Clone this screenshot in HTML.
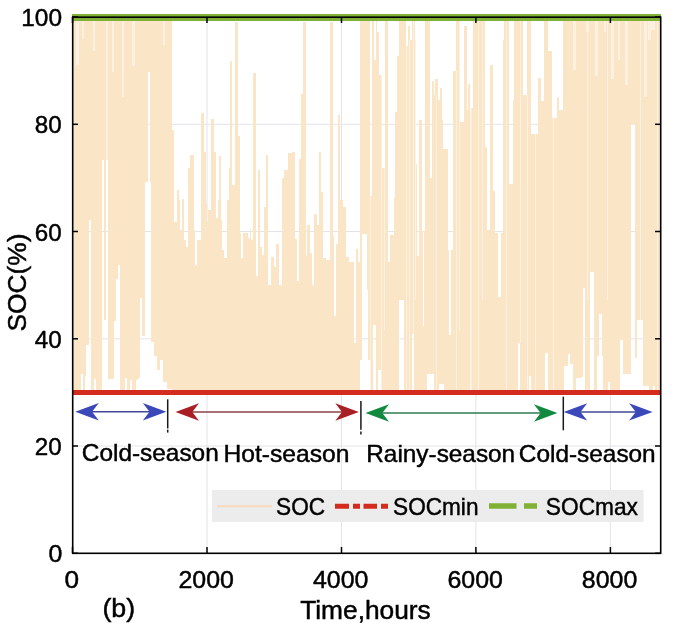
<!DOCTYPE html>
<html><head><meta charset="utf-8"><style>
html,body{margin:0;padding:0;background:#fff;}
svg{display:block;will-change:transform;}
text{font-family:"Liberation Sans",sans-serif;fill:#000;stroke:#000;stroke-width:0.45px;}
</style></head><body>
<svg width="676" height="627" viewBox="0 0 676 627">
<rect width="676" height="627" fill="#fff"/>
<g stroke="#E3E4EA" stroke-width="1"><line x1="207.0" y1="17" x2="207.0" y2="553" /><line x1="341.5" y1="17" x2="341.5" y2="553" /><line x1="475.9" y1="17" x2="475.9" y2="553" /><line x1="610.4" y1="17" x2="610.4" y2="553" /><line x1="72" y1="446.0" x2="661" y2="446.0" /><line x1="72" y1="338.8" x2="661" y2="338.8" /><line x1="72" y1="231.5" x2="661" y2="231.5" /><line x1="72" y1="124.3" x2="661" y2="124.3" /></g>
<g shape-rendering="crispEdges">
<rect x="72" y="17" width="4" height="374" fill="#FAE5C7"/>
<rect x="76" y="17" width="3" height="48" fill="#FCF0E0"/>
<rect x="76" y="65" width="3" height="326" fill="#FAE5C7"/>
<rect x="79" y="17" width="2" height="374" fill="#FAE5C7"/>
<rect x="81" y="17" width="1" height="357" fill="#FAE5C7"/>
<rect x="82" y="17" width="1" height="22" fill="#FCF0E0"/>
<rect x="82" y="39" width="1" height="335" fill="#FAE5C7"/>
<rect x="83" y="17" width="1" height="22" fill="#FCF0E0"/>
<rect x="83" y="39" width="1" height="352" fill="#FAE5C7"/>
<rect x="84" y="17" width="1" height="374" fill="#FAE5C7"/>
<rect x="85" y="17" width="1" height="359" fill="#FAE5C7"/>
<rect x="86" y="17" width="3" height="328" fill="#FAE5C7"/>
<rect x="89" y="17" width="2" height="203" fill="#FAE5C7"/>
<rect x="91" y="17" width="2" height="374" fill="#FAE5C7"/>
<rect x="93" y="17" width="1" height="34" fill="#FCF0E0"/>
<rect x="93" y="51" width="1" height="340" fill="#FAE5C7"/>
<rect x="94" y="17" width="1" height="34" fill="#FCF0E0"/>
<rect x="94" y="51" width="1" height="328" fill="#FAE5C7"/>
<rect x="95" y="17" width="1" height="362" fill="#FAE5C7"/>
<rect x="96" y="17" width="6" height="374" fill="#FAE5C7"/>
<rect x="102" y="17" width="2" height="143" fill="#FAE5C7"/>
<rect x="104" y="17" width="2" height="303" fill="#FAE5C7"/>
<rect x="106" y="17" width="2" height="143" fill="#FCF0E0"/>
<rect x="108" y="17" width="4" height="362" fill="#FAE5C7"/>
<rect x="112" y="17" width="2" height="55" fill="#FCF0E0"/>
<rect x="112" y="72" width="2" height="307" fill="#FAE5C7"/>
<rect x="114" y="17" width="2" height="304" fill="#FAE5C7"/>
<rect x="116" y="17" width="2" height="262" fill="#FAE5C7"/>
<rect x="118" y="17" width="2" height="248" fill="#FAE5C7"/>
<rect x="120" y="17" width="2" height="374" fill="#FAE5C7"/>
<rect x="122" y="17" width="2" height="80" fill="#FCF0E0"/>
<rect x="122" y="97" width="2" height="294" fill="#FAE5C7"/>
<rect x="124" y="17" width="1" height="374" fill="#FAE5C7"/>
<rect x="125" y="17" width="2" height="361" fill="#FAE5C7"/>
<rect x="127" y="17" width="3" height="374" fill="#FAE5C7"/>
<rect x="130" y="17" width="2" height="363" fill="#FAE5C7"/>
<rect x="132" y="17" width="3" height="49" fill="#FCF0E0"/>
<rect x="132" y="66" width="3" height="325" fill="#FAE5C7"/>
<rect x="135" y="17" width="1" height="374" fill="#FAE5C7"/>
<rect x="136" y="17" width="2" height="363" fill="#FAE5C7"/>
<rect x="138" y="17" width="2" height="361" fill="#FAE5C7"/>
<rect x="140" y="17" width="2" height="281" fill="#FAE5C7"/>
<rect x="142" y="17" width="3" height="319" fill="#FAE5C7"/>
<rect x="145" y="17" width="3" height="165" fill="#FAE5C7"/>
<rect x="148" y="17" width="2" height="55" fill="#FAE5C7"/>
<rect x="150" y="17" width="1" height="165" fill="#FAE5C7"/>
<rect x="151" y="17" width="3" height="325" fill="#FAE5C7"/>
<rect x="154" y="17" width="3" height="339" fill="#FAE5C7"/>
<rect x="157" y="17" width="3" height="353" fill="#FAE5C7"/>
<rect x="160" y="17" width="3" height="343" fill="#FAE5C7"/>
<rect x="163" y="17" width="2" height="28" fill="#FCF0E0"/>
<rect x="163" y="45" width="2" height="337" fill="#FAE5C7"/>
<rect x="165" y="17" width="2" height="365" fill="#FAE5C7"/>
<rect x="167" y="17" width="5" height="372" fill="#FAE5C7"/>
<rect x="172" y="130" width="2" height="261" fill="#FAE5C7"/>
<rect x="174" y="222" width="3" height="169" fill="#FAE5C7"/>
<rect x="177" y="190" width="2" height="201" fill="#FAE5C7"/>
<rect x="179" y="200" width="1" height="191" fill="#FAE5C7"/>
<rect x="180" y="230" width="2" height="161" fill="#FAE5C7"/>
<rect x="182" y="199" width="2" height="192" fill="#FAE5C7"/>
<rect x="184" y="240" width="2" height="151" fill="#FAE5C7"/>
<rect x="186" y="247" width="2" height="144" fill="#FAE5C7"/>
<rect x="188" y="168" width="2" height="223" fill="#FAE5C7"/>
<rect x="190" y="155" width="4" height="236" fill="#FAE5C7"/>
<rect x="194" y="230" width="1" height="161" fill="#FAE5C7"/>
<rect x="195" y="265" width="2" height="126" fill="#FAE5C7"/>
<rect x="197" y="240" width="4" height="151" fill="#FAE5C7"/>
<rect x="201" y="113" width="3" height="278" fill="#FAE5C7"/>
<rect x="204" y="152" width="2" height="239" fill="#FAE5C7"/>
<rect x="206" y="204" width="1" height="187" fill="#FAE5C7"/>
<rect x="207" y="222" width="1" height="169" fill="#FAE5C7"/>
<rect x="208" y="210" width="3" height="181" fill="#FAE5C7"/>
<rect x="211" y="119" width="3" height="272" fill="#FAE5C7"/>
<rect x="214" y="152" width="2" height="239" fill="#FAE5C7"/>
<rect x="216" y="218" width="2" height="173" fill="#FAE5C7"/>
<rect x="218" y="200" width="1" height="191" fill="#FAE5C7"/>
<rect x="219" y="156" width="2" height="235" fill="#FAE5C7"/>
<rect x="221" y="220" width="1" height="171" fill="#FAE5C7"/>
<rect x="222" y="250" width="2" height="141" fill="#FAE5C7"/>
<rect x="224" y="258" width="3" height="133" fill="#FAE5C7"/>
<rect x="227" y="200" width="2" height="191" fill="#FAE5C7"/>
<rect x="229" y="168" width="1" height="223" fill="#FAE5C7"/>
<rect x="230" y="61" width="2" height="330" fill="#FAE5C7"/>
<rect x="232" y="185" width="3" height="206" fill="#FAE5C7"/>
<rect x="235" y="22" width="3" height="369" fill="#FAE5C7"/>
<rect x="238" y="136" width="2" height="255" fill="#FAE5C7"/>
<rect x="240" y="233" width="1" height="158" fill="#FAE5C7"/>
<rect x="241" y="258" width="2" height="133" fill="#FAE5C7"/>
<rect x="243" y="233" width="5" height="158" fill="#FAE5C7"/>
<rect x="248" y="238" width="2" height="153" fill="#FAE5C7"/>
<rect x="250" y="229" width="1" height="162" fill="#FAE5C7"/>
<rect x="251" y="240" width="2" height="151" fill="#FAE5C7"/>
<rect x="253" y="73" width="3" height="318" fill="#FAE5C7"/>
<rect x="256" y="276" width="2" height="115" fill="#FAE5C7"/>
<rect x="258" y="170" width="2" height="221" fill="#FAE5C7"/>
<rect x="260" y="247" width="2" height="144" fill="#FAE5C7"/>
<rect x="262" y="255" width="2" height="136" fill="#FAE5C7"/>
<rect x="264" y="207" width="2" height="184" fill="#FAE5C7"/>
<rect x="266" y="155" width="2" height="236" fill="#FAE5C7"/>
<rect x="268" y="285" width="3" height="106" fill="#FAE5C7"/>
<rect x="271" y="257" width="3" height="134" fill="#FAE5C7"/>
<rect x="274" y="267" width="2" height="124" fill="#FAE5C7"/>
<rect x="276" y="244" width="3" height="147" fill="#FAE5C7"/>
<rect x="279" y="285" width="3" height="106" fill="#FAE5C7"/>
<rect x="282" y="178" width="2" height="213" fill="#FAE5C7"/>
<rect x="284" y="170" width="4" height="221" fill="#FAE5C7"/>
<rect x="288" y="153" width="4" height="238" fill="#FAE5C7"/>
<rect x="292" y="152" width="3" height="239" fill="#FAE5C7"/>
<rect x="295" y="239" width="2" height="152" fill="#FAE5C7"/>
<rect x="297" y="281" width="2" height="110" fill="#FAE5C7"/>
<rect x="299" y="159" width="2" height="232" fill="#FAE5C7"/>
<rect x="301" y="94" width="2" height="297" fill="#FAE5C7"/>
<rect x="303" y="22" width="3" height="369" fill="#FAE5C7"/>
<rect x="306" y="256" width="1" height="135" fill="#FAE5C7"/>
<rect x="307" y="225" width="3" height="166" fill="#FAE5C7"/>
<rect x="310" y="253" width="2" height="138" fill="#FAE5C7"/>
<rect x="312" y="285" width="2" height="106" fill="#FAE5C7"/>
<rect x="314" y="214" width="3" height="177" fill="#FAE5C7"/>
<rect x="317" y="225" width="2" height="166" fill="#FAE5C7"/>
<rect x="319" y="152" width="2" height="239" fill="#FAE5C7"/>
<rect x="321" y="192" width="2" height="199" fill="#FAE5C7"/>
<rect x="323" y="258" width="3" height="133" fill="#FAE5C7"/>
<rect x="326" y="260" width="4" height="131" fill="#FAE5C7"/>
<rect x="330" y="22" width="3" height="369" fill="#FAE5C7"/>
<rect x="333" y="236" width="1" height="155" fill="#FAE5C7"/>
<rect x="334" y="316" width="2" height="75" fill="#FAE5C7"/>
<rect x="336" y="244" width="2" height="147" fill="#FAE5C7"/>
<rect x="338" y="115" width="2" height="276" fill="#FAE5C7"/>
<rect x="340" y="200" width="3" height="191" fill="#FAE5C7"/>
<rect x="343" y="207" width="3" height="184" fill="#FAE5C7"/>
<rect x="346" y="257" width="3" height="134" fill="#FAE5C7"/>
<rect x="349" y="262" width="5" height="129" fill="#FAE5C7"/>
<rect x="354" y="343" width="2" height="48" fill="#FAE5C7"/>
<rect x="356" y="249" width="2" height="142" fill="#FAE5C7"/>
<rect x="358" y="262" width="2" height="129" fill="#FAE5C7"/>
<rect x="360" y="17" width="2" height="343" fill="#FAE5C7"/>
<rect x="362" y="17" width="5" height="217" fill="#FAE5C7"/>
<rect x="367" y="17" width="1" height="273" fill="#FAE5C7"/>
<rect x="368" y="17" width="2" height="343" fill="#FAE5C7"/>
<rect x="370" y="196" width="1" height="196" fill="#FCF0E0"/>
<rect x="371" y="196" width="1" height="195" fill="#FAE5C7"/>
<rect x="372" y="17" width="1" height="374" fill="#FAE5C7"/>
<rect x="373" y="17" width="1" height="308" fill="#FAE5C7"/>
<rect x="374" y="60" width="2" height="265" fill="#FAE5C7"/>
<rect x="376" y="17" width="1" height="374" fill="#FAE5C7"/>
<rect x="377" y="32" width="1" height="359" fill="#FAE5C7"/>
<rect x="378" y="32" width="1" height="338" fill="#FAE5C7"/>
<rect x="379" y="75" width="2" height="295" fill="#FAE5C7"/>
<rect x="381" y="75" width="1" height="317" fill="#FCF0E0"/>
<rect x="382" y="168" width="2" height="223" fill="#FAE5C7"/>
<rect x="384" y="168" width="1" height="162" fill="#FCF0E0"/>
<rect x="384" y="330" width="1" height="61" fill="#FAE5C7"/>
<rect x="385" y="17" width="3" height="374" fill="#FAE5C7"/>
<rect x="388" y="262" width="2" height="129" fill="#FAE5C7"/>
<rect x="390" y="235" width="4" height="156" fill="#FAE5C7"/>
<rect x="394" y="197" width="1" height="194" fill="#FAE5C7"/>
<rect x="395" y="112" width="2" height="279" fill="#FAE5C7"/>
<rect x="397" y="56" width="2" height="335" fill="#FAE5C7"/>
<rect x="399" y="17" width="5" height="283" fill="#FAE5C7"/>
<rect x="404" y="17" width="2" height="374" fill="#FAE5C7"/>
<rect x="406" y="46" width="1" height="346" fill="#FCF0E0"/>
<rect x="407" y="46" width="1" height="345" fill="#FAE5C7"/>
<rect x="408" y="26" width="1" height="365" fill="#FAE5C7"/>
<rect x="409" y="26" width="1" height="14" fill="#FAE5C7"/>
<rect x="409" y="40" width="1" height="352" fill="#FCF0E0"/>
<rect x="410" y="40" width="2" height="351" fill="#FAE5C7"/>
<rect x="412" y="17" width="1" height="317" fill="#FAE5C7"/>
<rect x="413" y="17" width="1" height="316" fill="#FCF0E0"/>
<rect x="413" y="333" width="1" height="1" fill="#FAE5C7"/>
<rect x="414" y="17" width="1" height="374" fill="#FAE5C7"/>
<rect x="415" y="40" width="1" height="260" fill="#FCF0E0"/>
<rect x="415" y="300" width="1" height="91" fill="#FAE5C7"/>
<rect x="416" y="164" width="1" height="227" fill="#FAE5C7"/>
<rect x="417" y="256" width="2" height="135" fill="#FAE5C7"/>
<rect x="419" y="120" width="3" height="271" fill="#FAE5C7"/>
<rect x="422" y="231" width="1" height="160" fill="#FAE5C7"/>
<rect x="423" y="326" width="1" height="65" fill="#FAE5C7"/>
<rect x="424" y="231" width="1" height="160" fill="#FAE5C7"/>
<rect x="425" y="17" width="2" height="374" fill="#FAE5C7"/>
<rect x="427" y="17" width="3" height="357" fill="#FAE5C7"/>
<rect x="430" y="178" width="2" height="196" fill="#FAE5C7"/>
<rect x="432" y="81" width="2" height="293" fill="#FAE5C7"/>
<rect x="434" y="95" width="1" height="296" fill="#FAE5C7"/>
<rect x="435" y="79" width="1" height="312" fill="#FAE5C7"/>
<rect x="436" y="79" width="1" height="16" fill="#FAE5C7"/>
<rect x="436" y="95" width="1" height="297" fill="#FCF0E0"/>
<rect x="437" y="79" width="1" height="312" fill="#FAE5C7"/>
<rect x="438" y="100" width="1" height="291" fill="#FAE5C7"/>
<rect x="439" y="100" width="1" height="284" fill="#FAE5C7"/>
<rect x="440" y="88" width="2" height="296" fill="#FAE5C7"/>
<rect x="442" y="120" width="1" height="264" fill="#FAE5C7"/>
<rect x="443" y="149" width="1" height="235" fill="#FAE5C7"/>
<rect x="444" y="149" width="4" height="242" fill="#FAE5C7"/>
<rect x="448" y="250" width="1" height="141" fill="#FAE5C7"/>
<rect x="449" y="335" width="2" height="56" fill="#FAE5C7"/>
<rect x="451" y="250" width="2" height="141" fill="#FAE5C7"/>
<rect x="453" y="71" width="3" height="320" fill="#FAE5C7"/>
<rect x="456" y="17" width="1" height="54" fill="#FAE5C7"/>
<rect x="456" y="71" width="1" height="321" fill="#FCF0E0"/>
<rect x="457" y="17" width="2" height="374" fill="#FAE5C7"/>
<rect x="459" y="17" width="1" height="313" fill="#FCF0E0"/>
<rect x="459" y="330" width="1" height="61" fill="#FAE5C7"/>
<rect x="460" y="122" width="4" height="269" fill="#FAE5C7"/>
<rect x="464" y="26" width="3" height="365" fill="#FAE5C7"/>
<rect x="467" y="110" width="1" height="281" fill="#FAE5C7"/>
<rect x="468" y="84" width="2" height="307" fill="#FAE5C7"/>
<rect x="470" y="108" width="2" height="284" fill="#FCF0E0"/>
<rect x="472" y="108" width="1" height="283" fill="#FAE5C7"/>
<rect x="473" y="17" width="5" height="374" fill="#FAE5C7"/>
<rect x="478" y="17" width="1" height="375" fill="#FCF0E0"/>
<rect x="479" y="17" width="3" height="374" fill="#FAE5C7"/>
<rect x="482" y="17" width="1" height="283" fill="#FCF0E0"/>
<rect x="482" y="300" width="1" height="91" fill="#FAE5C7"/>
<rect x="483" y="17" width="2" height="374" fill="#FAE5C7"/>
<rect x="485" y="147" width="2" height="244" fill="#FAE5C7"/>
<rect x="487" y="230" width="3" height="161" fill="#FAE5C7"/>
<rect x="490" y="65" width="3" height="326" fill="#FAE5C7"/>
<rect x="493" y="191" width="2" height="200" fill="#FAE5C7"/>
<rect x="495" y="233" width="3" height="158" fill="#FAE5C7"/>
<rect x="498" y="297" width="3" height="94" fill="#FAE5C7"/>
<rect x="501" y="233" width="2" height="158" fill="#FAE5C7"/>
<rect x="503" y="40" width="1" height="351" fill="#FAE5C7"/>
<rect x="504" y="17" width="2" height="374" fill="#FAE5C7"/>
<rect x="506" y="17" width="1" height="375" fill="#FCF0E0"/>
<rect x="507" y="17" width="2" height="374" fill="#FAE5C7"/>
<rect x="509" y="184" width="4" height="207" fill="#FAE5C7"/>
<rect x="513" y="100" width="1" height="291" fill="#FAE5C7"/>
<rect x="514" y="17" width="4" height="374" fill="#FAE5C7"/>
<rect x="518" y="17" width="2" height="326" fill="#FAE5C7"/>
<rect x="520" y="17" width="1" height="326" fill="#FCF0E0"/>
<rect x="520" y="343" width="1" height="48" fill="#FAE5C7"/>
<rect x="521" y="17" width="2" height="374" fill="#FAE5C7"/>
<rect x="523" y="95" width="4" height="296" fill="#FAE5C7"/>
<rect x="527" y="17" width="1" height="78" fill="#FAE5C7"/>
<rect x="527" y="95" width="1" height="297" fill="#FCF0E0"/>
<rect x="528" y="17" width="1" height="374" fill="#FAE5C7"/>
<rect x="529" y="17" width="2" height="359" fill="#FAE5C7"/>
<rect x="531" y="134" width="4" height="257" fill="#FAE5C7"/>
<rect x="535" y="134" width="1" height="258" fill="#FCF0E0"/>
<rect x="536" y="134" width="2" height="257" fill="#FAE5C7"/>
<rect x="538" y="78" width="3" height="313" fill="#FAE5C7"/>
<rect x="541" y="101" width="3" height="290" fill="#FAE5C7"/>
<rect x="544" y="17" width="1" height="374" fill="#FAE5C7"/>
<rect x="545" y="17" width="3" height="336" fill="#FAE5C7"/>
<rect x="548" y="51" width="4" height="340" fill="#FAE5C7"/>
<rect x="552" y="118" width="1" height="273" fill="#FAE5C7"/>
<rect x="553" y="118" width="1" height="274" fill="#FCF0E0"/>
<rect x="554" y="118" width="3" height="273" fill="#FAE5C7"/>
<rect x="557" y="97" width="2" height="294" fill="#FAE5C7"/>
<rect x="559" y="110" width="4" height="281" fill="#FAE5C7"/>
<rect x="563" y="17" width="1" height="374" fill="#FAE5C7"/>
<rect x="564" y="17" width="4" height="349" fill="#FAE5C7"/>
<rect x="568" y="17" width="2" height="337" fill="#FAE5C7"/>
<rect x="570" y="17" width="3" height="347" fill="#FAE5C7"/>
<rect x="573" y="17" width="3" height="53" fill="#FCF0E0"/>
<rect x="573" y="70" width="3" height="321" fill="#FAE5C7"/>
<rect x="576" y="17" width="5" height="361" fill="#FAE5C7"/>
<rect x="581" y="17" width="2" height="360" fill="#FAE5C7"/>
<rect x="583" y="17" width="2" height="271" fill="#FAE5C7"/>
<rect x="585" y="17" width="1" height="374" fill="#FAE5C7"/>
<rect x="586" y="17" width="1" height="15" fill="#FCF0E0"/>
<rect x="586" y="32" width="1" height="359" fill="#FAE5C7"/>
<rect x="587" y="17" width="1" height="283" fill="#FCF0E0"/>
<rect x="587" y="300" width="1" height="91" fill="#FAE5C7"/>
<rect x="588" y="17" width="1" height="15" fill="#FCF0E0"/>
<rect x="588" y="32" width="1" height="359" fill="#FAE5C7"/>
<rect x="589" y="17" width="1" height="374" fill="#FAE5C7"/>
<rect x="590" y="17" width="4" height="255" fill="#FAE5C7"/>
<rect x="594" y="17" width="1" height="374" fill="#FAE5C7"/>
<rect x="595" y="17" width="2" height="59" fill="#FCF0E0"/>
<rect x="595" y="76" width="2" height="315" fill="#FAE5C7"/>
<rect x="597" y="17" width="1" height="59" fill="#FCF0E0"/>
<rect x="597" y="76" width="1" height="280" fill="#FAE5C7"/>
<rect x="598" y="17" width="1" height="339" fill="#FAE5C7"/>
<rect x="599" y="17" width="3" height="297" fill="#FAE5C7"/>
<rect x="602" y="17" width="1" height="339" fill="#FAE5C7"/>
<rect x="603" y="17" width="1" height="374" fill="#FAE5C7"/>
<rect x="604" y="17" width="2" height="15" fill="#FCF0E0"/>
<rect x="604" y="32" width="2" height="359" fill="#FAE5C7"/>
<rect x="606" y="17" width="1" height="374" fill="#FAE5C7"/>
<rect x="607" y="17" width="1" height="283" fill="#FCF0E0"/>
<rect x="607" y="300" width="1" height="91" fill="#FAE5C7"/>
<rect x="608" y="17" width="2" height="365" fill="#FAE5C7"/>
<rect x="610" y="17" width="1" height="374" fill="#FAE5C7"/>
<rect x="611" y="17" width="3" height="62" fill="#FCF0E0"/>
<rect x="611" y="79" width="3" height="312" fill="#FAE5C7"/>
<rect x="614" y="17" width="4" height="374" fill="#FAE5C7"/>
<rect x="618" y="17" width="2" height="43" fill="#FCF0E0"/>
<rect x="618" y="60" width="2" height="331" fill="#FAE5C7"/>
<rect x="620" y="17" width="3" height="323" fill="#FAE5C7"/>
<rect x="623" y="17" width="2" height="357" fill="#FAE5C7"/>
<rect x="625" y="17" width="3" height="68" fill="#FCF0E0"/>
<rect x="625" y="85" width="3" height="289" fill="#FAE5C7"/>
<rect x="628" y="17" width="3" height="357" fill="#FAE5C7"/>
<rect x="631" y="17" width="4" height="107" fill="#FAE5C7"/>
<rect x="635" y="17" width="2" height="341" fill="#FAE5C7"/>
<rect x="637" y="17" width="3" height="303" fill="#FAE5C7"/>
<rect x="640" y="17" width="1" height="303" fill="#FCF0E0"/>
<rect x="641" y="17" width="2" height="303" fill="#FAE5C7"/>
<rect x="643" y="17" width="1" height="369" fill="#FAE5C7"/>
<rect x="644" y="17" width="3" height="80" fill="#FCF0E0"/>
<rect x="644" y="97" width="3" height="289" fill="#FAE5C7"/>
<rect x="647" y="17" width="1" height="369" fill="#FAE5C7"/>
<rect x="648" y="17" width="1" height="23" fill="#FCF0E0"/>
<rect x="648" y="40" width="1" height="346" fill="#FAE5C7"/>
<rect x="649" y="17" width="2" height="23" fill="#FCF0E0"/>
<rect x="649" y="40" width="2" height="351" fill="#FAE5C7"/>
<rect x="651" y="17" width="2" height="13" fill="#FCF0E0"/>
<rect x="651" y="30" width="2" height="361" fill="#FAE5C7"/>
<rect x="653" y="17" width="2" height="13" fill="#FCF0E0"/>
<rect x="653" y="30" width="2" height="356" fill="#FAE5C7"/>
<rect x="655" y="17" width="2" height="374" fill="#FAE5C7"/>
<rect x="657" y="17" width="1" height="375" fill="#FCF0E0"/>
<rect x="658" y="17" width="3" height="374" fill="#FAE5C7"/>
</g>
<line x1="72" y1="392.4" x2="661" y2="392.4" stroke="#D42B1F" stroke-width="5"/>
<line x1="72" y1="17.4" x2="661" y2="17.4" stroke="#80B035" stroke-width="7"/>
<rect x="72.7" y="17.2" width="588" height="536.1" fill="none" stroke="#000" stroke-width="1.6"/>
<g stroke="#000" stroke-width="1.5"><line x1="72.5" y1="553" x2="72.5" y2="547"/><line x1="72.5" y1="17" x2="72.5" y2="23"/><line x1="207.0" y1="553" x2="207.0" y2="547"/><line x1="207.0" y1="17" x2="207.0" y2="23"/><line x1="341.5" y1="553" x2="341.5" y2="547"/><line x1="341.5" y1="17" x2="341.5" y2="23"/><line x1="475.9" y1="553" x2="475.9" y2="547"/><line x1="475.9" y1="17" x2="475.9" y2="23"/><line x1="610.4" y1="553" x2="610.4" y2="547"/><line x1="610.4" y1="17" x2="610.4" y2="23"/><line x1="72" y1="553.3" x2="78" y2="553.3"/><line x1="661" y1="553.3" x2="655" y2="553.3"/><line x1="72" y1="446.0" x2="78" y2="446.0"/><line x1="661" y1="446.0" x2="655" y2="446.0"/><line x1="72" y1="338.8" x2="78" y2="338.8"/><line x1="661" y1="338.8" x2="655" y2="338.8"/><line x1="72" y1="231.5" x2="78" y2="231.5"/><line x1="661" y1="231.5" x2="655" y2="231.5"/><line x1="72" y1="124.3" x2="78" y2="124.3"/><line x1="661" y1="124.3" x2="655" y2="124.3"/><line x1="72" y1="17.0" x2="78" y2="17.0"/><line x1="661" y1="17.0" x2="655" y2="17.0"/></g>
<line x1="83.3" y1="411.7" x2="158.3" y2="411.7" stroke="#404a95" stroke-width="1.5"/><path d="M75.3,411.7 L98.8,403.0 L92.1,411.7 L98.8,420.4 Z M166.3,411.7 L142.8,403.0 L149.5,411.7 L142.8,420.4 Z" fill="#3A48BA"/><line x1="183.5" y1="412" x2="350.8" y2="412" stroke="#8c4048" stroke-width="1.5"/><path d="M175.5,412.0 L199.0,403.3 L192.3,412.0 L199.0,420.7 Z M358.8,412.0 L335.3,403.3 L342.0,412.0 L335.3,420.7 Z" fill="#A81F26"/><line x1="373.5" y1="413" x2="549.4" y2="413" stroke="#2f7a52" stroke-width="1.5"/><path d="M365.5,413.0 L389.0,404.3 L382.3,413.0 L389.0,421.7 Z M557.4,413.0 L533.9,404.3 L540.6,413.0 L533.9,421.7 Z" fill="#118A40"/><line x1="571.7" y1="411.9" x2="644.6" y2="411.9" stroke="#404a95" stroke-width="1.5"/><path d="M563.7,411.9 L587.2,403.2 L580.5,411.9 L587.2,420.6 Z M652.6,411.9 L629.1,403.2 L635.8,411.9 L629.1,420.6 Z" fill="#3A48BA"/>
<line x1="167.7" y1="399.3" x2="167.7" y2="428.5" stroke="#1a1a1a" stroke-width="1.5"/><line x1="167.7" y1="429.7" x2="167.7" y2="432.6" stroke="#1a1a1a" stroke-width="1.5"/><line x1="360.9" y1="400.9" x2="360.9" y2="429.7" stroke="#1a1a1a" stroke-width="1.5"/><line x1="360.9" y1="431.5" x2="360.9" y2="434.6" stroke="#1a1a1a" stroke-width="1.5"/><line x1="563.3" y1="396.7" x2="563.3" y2="430.3" stroke="#1a1a1a" stroke-width="1.5"/>
<rect x="212" y="490" width="431.5" height="32" fill="#ECECEC"/><line x1="217" y1="506.2" x2="272" y2="506.2" stroke="#F8D9BC" stroke-width="2"/><path d="M335,506.3 H349 M353,506.3 H360 M363.5,506.3 H377 M381,506.3 H388" stroke="#D42B1F" stroke-width="5"/><path d="M489,506 H516.5 M524,506 H537" stroke="#80B035" stroke-width="5.5"/><text x="276.06" y="514.80" font-size="24" textLength="49.00" lengthAdjust="spacingAndGlyphs">SOC</text><text x="393.06" y="514.60" font-size="24" textLength="85.43" lengthAdjust="spacingAndGlyphs">SOCmin</text><text x="545.85" y="514.70" font-size="24" textLength="92.09" lengthAdjust="spacingAndGlyphs">SOCmax</text>
<text x="48.56" y="562.30" font-size="24" textLength="13.85" lengthAdjust="spacingAndGlyphs">0</text><text x="34.79" y="455.04" font-size="24" textLength="26.92" lengthAdjust="spacingAndGlyphs">20</text><text x="34.79" y="347.78" font-size="24" textLength="26.92" lengthAdjust="spacingAndGlyphs">40</text><text x="34.79" y="240.52" font-size="24" textLength="26.92" lengthAdjust="spacingAndGlyphs">60</text><text x="34.79" y="133.26" font-size="24" textLength="26.92" lengthAdjust="spacingAndGlyphs">80</text><text x="21.26" y="26.00" font-size="24" textLength="40.80" lengthAdjust="spacingAndGlyphs">100</text><text x="64.41" y="587.80" font-size="24" textLength="14.57" lengthAdjust="spacingAndGlyphs">0</text><text x="178.44" y="587.80" font-size="24" textLength="55.48" lengthAdjust="spacingAndGlyphs">2000</text><text x="312.92" y="587.80" font-size="24" textLength="55.48" lengthAdjust="spacingAndGlyphs">4000</text><text x="447.40" y="587.80" font-size="24" textLength="55.48" lengthAdjust="spacingAndGlyphs">6000</text><text x="581.88" y="587.80" font-size="24" textLength="55.48" lengthAdjust="spacingAndGlyphs">8000</text><text x="81.78" y="460.80" font-size="24" textLength="137.00" lengthAdjust="spacingAndGlyphs">Cold-season</text><text x="223.45" y="461.50" font-size="24" textLength="125.93" lengthAdjust="spacingAndGlyphs">Hot-season</text><text x="366.27" y="461.50" font-size="24" textLength="148.91" lengthAdjust="spacingAndGlyphs">Rainy-season</text><text x="518.88" y="461.50" font-size="24" textLength="136.79" lengthAdjust="spacingAndGlyphs">Cold-season</text><text x="300.15" y="619.20" font-size="25" textLength="130.62" lengthAdjust="spacingAndGlyphs">Time,hours</text><text x="102.46" y="616.80" font-size="25" textLength="32.71" lengthAdjust="spacingAndGlyphs">(b)</text><text transform="translate(26.3,331.51) rotate(-90)" font-size="25" textLength="98.03" lengthAdjust="spacingAndGlyphs">SOC(%)</text>
</svg>
</body></html>
